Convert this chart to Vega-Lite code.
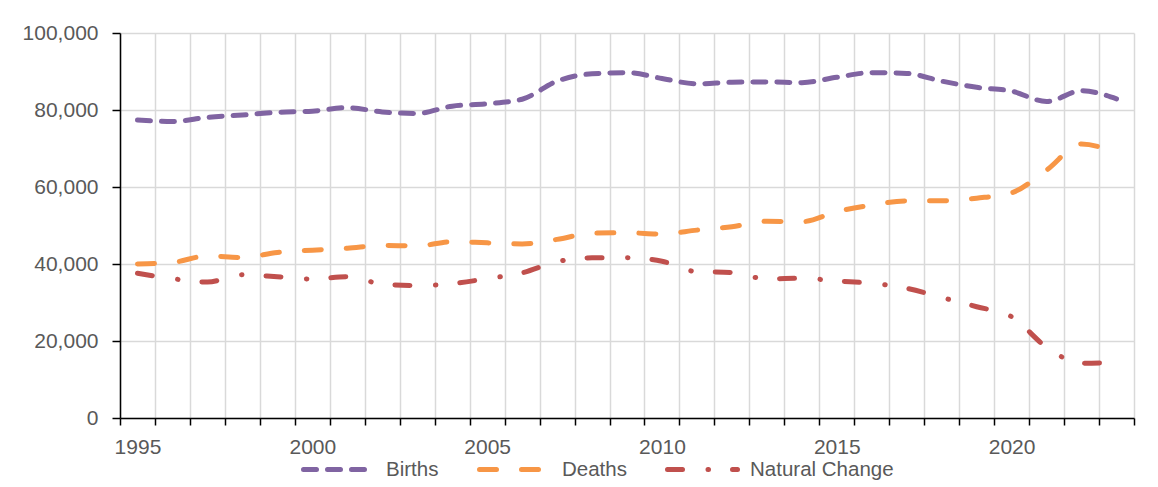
{
  "$schema": "https://vega.github.io/schema/vega-lite/v6.json",
  "width": 1014,
  "height": 385,
  "autosize": "none",
  "padding": {"left": 120, "top": 33, "right": 24, "bottom": 69},
  "background": "white",
  "datasets": {
    "raw": [
      {"year": 1995, "Births": 77400, "Deaths": 40000, "Natural Change": 37600},
      {"year": 1996, "Births": 77000, "Deaths": 40400, "Natural Change": 36200},
      {"year": 1997, "Births": 78100, "Deaths": 42100, "Natural Change": 35300},
      {"year": 1998, "Births": 78700, "Deaths": 41700, "Natural Change": 37200},
      {"year": 1999, "Births": 79400, "Deaths": 43000, "Natural Change": 36700},
      {"year": 2000, "Births": 79700, "Deaths": 43600, "Natural Change": 36100},
      {"year": 2001, "Births": 80600, "Deaths": 44100, "Natural Change": 36700},
      {"year": 2002, "Births": 79500, "Deaths": 44800, "Natural Change": 34800},
      {"year": 2003, "Births": 79100, "Deaths": 44700, "Natural Change": 34400},
      {"year": 2004, "Births": 81000, "Deaths": 45800, "Natural Change": 34900},
      {"year": 2005, "Births": 81600, "Deaths": 45500, "Natural Change": 36200},
      {"year": 2006, "Births": 82800, "Deaths": 45200, "Natural Change": 37700},
      {"year": 2007, "Births": 87500, "Deaths": 46400, "Natural Change": 40600},
      {"year": 2008, "Births": 89400, "Deaths": 48000, "Natural Change": 41600},
      {"year": 2009, "Births": 89700, "Deaths": 48100, "Natural Change": 41600},
      {"year": 2010, "Births": 88200, "Deaths": 47800, "Natural Change": 40700},
      {"year": 2011, "Births": 86800, "Deaths": 48800, "Natural Change": 38000},
      {"year": 2012, "Births": 87200, "Deaths": 49700, "Natural Change": 37800},
      {"year": 2013, "Births": 87300, "Deaths": 51100, "Natural Change": 36100},
      {"year": 2014, "Births": 87100, "Deaths": 51000, "Natural Change": 36300},
      {"year": 2015, "Births": 88500, "Deaths": 53600, "Natural Change": 35600},
      {"year": 2016, "Births": 89700, "Deaths": 55300, "Natural Change": 35000},
      {"year": 2017, "Births": 89500, "Deaths": 56400, "Natural Change": 33700},
      {"year": 2018, "Births": 87500, "Deaths": 56400, "Natural Change": 31300},
      {"year": 2019, "Births": 85900, "Deaths": 57100, "Natural Change": 28900},
      {"year": 2020, "Births": 84900, "Deaths": 58500, "Natural Change": 26300},
      {"year": 2021, "Births": 82200, "Deaths": 64400, "Natural Change": 18400},
      {"year": 2022, "Births": 85000, "Deaths": 71200, "Natural Change": 14200},
      {"year": 2023, "Births": 82900, "Deaths": 68700, "Natural Change": 14500}
    ]
  },
  "data": {"name": "raw"},
  "transform": [
    {"fold": ["Births", "Deaths", "Natural Change"], "as": ["series", "value"]}
  ],
  "mark": {"type": "line", "interpolate": "monotone", "strokeWidth": 5, "strokeCap": "round"},
  "encoding": {
    "x": {
      "field": "year",
      "type": "ordinal",
      "scale": {"type": "band", "paddingInner": 0, "paddingOuter": 0},
      "bandPosition": 0.5,
      "axis": {
        "title": null,
        "labelAngle": 0,
        "tickBand": "extent",
        "labelExpr": "datum.value % 5 == 0 ? datum.label : ''",
        "labelOverlap": false,
        "grid": true,
        "gridColor": "#d9d9d9",
        "gridWidth": 1.5,
        "domainColor": "#000000",
        "domainWidth": 1.5,
        "tickColor": "#000000",
        "tickWidth": 1.5,
        "tickSize": 7,
        "labelPadding": 11,
        "labelFont": "Liberation Sans",
        "labelFontSize": 21,
        "labelColor": "#595959"
      }
    },
    "y": {
      "field": "value",
      "type": "quantitative",
      "scale": {"domain": [0, 100000], "nice": false},
      "axis": {
        "title": null,
        "values": [0, 20000, 40000, 60000, 80000, 100000],
        "format": ",.0f",
        "grid": true,
        "gridColor": "#d9d9d9",
        "gridWidth": 1.5,
        "domainColor": "#000000",
        "domainWidth": 1.5,
        "tickColor": "#000000",
        "tickWidth": 1.5,
        "tickSize": 8,
        "labelPadding": 14,
        "labelFont": "Liberation Sans",
        "labelFontSize": 21,
        "labelColor": "#595959"
      }
    },
    "color": {
      "field": "series",
      "type": "nominal",
      "scale": {"domain": ["Births", "Deaths", "Natural Change"], "range": ["#8064A2", "#F79646", "#C0504D"]},
      "legend": {
        "title": null,
        "orient": "none",
        "legendX": 181,
        "legendY": 399,
        "direction": "horizontal",
        "symbolType": "stroke",
        "symbolSize": 4900,
        "symbolStrokeWidth": 5,
        "labelFont": "Liberation Sans",
        "labelFontSize": 20.5,
        "labelColor": "#595959",
        "labelOffset": 10,
        "labelLimit": 300,
        "columnPadding": 30,
        "encoding": {"symbols": {"strokeCap": {"value": "round"}}}
      }
    },
    "strokeDash": {
      "field": "series",
      "type": "nominal",
      "scale": {"domain": ["Births", "Deaths", "Natural Change"], "range": [[13, 11], [17, 25], [15, 25.5, 0.5, 24]]},
      "legend": {
        "title": null,
        "orient": "none",
        "legendX": 181,
        "legendY": 399,
        "direction": "horizontal",
        "symbolType": "stroke",
        "symbolSize": 4900,
        "symbolStrokeWidth": 5,
        "labelFont": "Liberation Sans",
        "labelFontSize": 20.5,
        "labelColor": "#595959",
        "labelOffset": 10,
        "labelLimit": 300,
        "columnPadding": 30,
        "encoding": {"symbols": {"strokeCap": {"value": "round"}}}
      }
    }
  },
  "config": {
    "view": {"stroke": null}
  }
}
